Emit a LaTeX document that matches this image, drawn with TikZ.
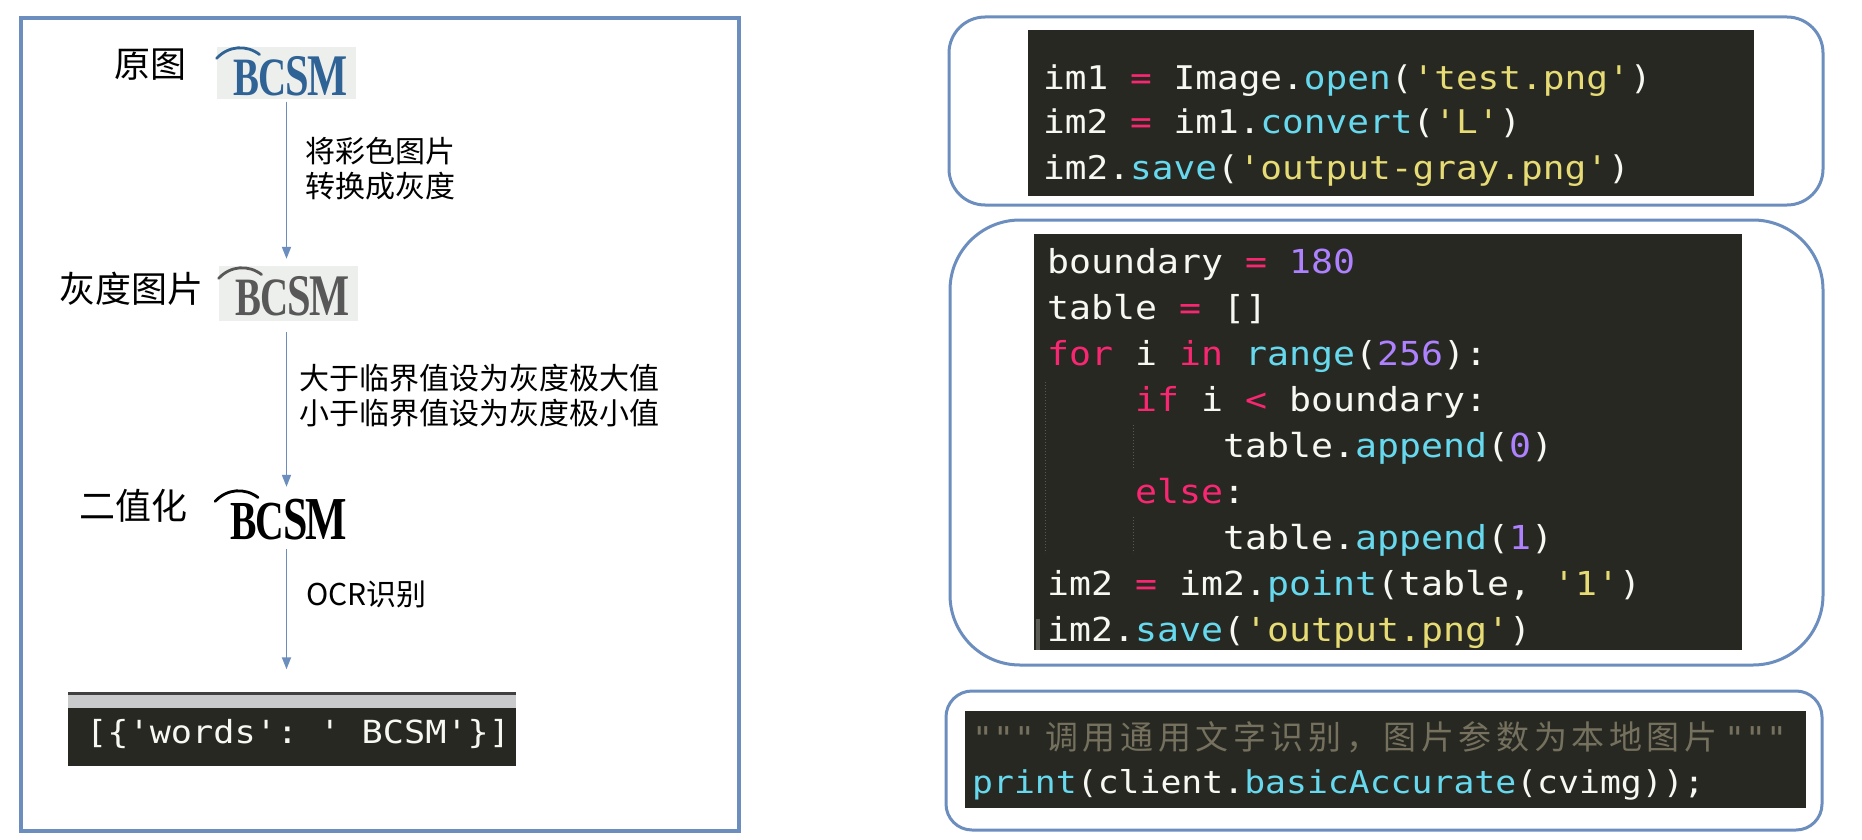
\documentclass[tikz,border=0pt]{standalone}
\usepackage{fontspec}
\setmonofont[FakeStretch=1.107]{DejaVu Sans Mono}
\newfontfamily\cjk{Noto Sans CJK SC}
\newfontfamily\capfont{Liberation Serif}
\usetikzlibrary{arrows.meta}
\definecolor{framec}{HTML}{6C8EBF}
\definecolor{mbg}{HTML}{272822}
\definecolor{mfg}{HTML}{F8F8F2}
\definecolor{mpink}{HTML}{F92672}
\definecolor{mcyan}{HTML}{66D9EF}
\definecolor{myel}{HTML}{E6DB74}
\definecolor{mpur}{HTML}{AE81FF}
\definecolor{mcmt}{HTML}{75715E}
\definecolor{capblue}{HTML}{2F6396}
\definecolor{capgray}{HTML}{585858}
\definecolor{capbg}{HTML}{EDEFEC}
\definecolor{stripgray}{HTML}{C8CACC}
\definecolor{guidec}{HTML}{5A5A55}
\newcommand\cop[1]{\textcolor{mpink}{#1}}
\newcommand\cfn[1]{\textcolor{mcyan}{#1}}
\newcommand\cstr[1]{\textcolor{myel}{#1}}
\newcommand\cnum[1]{\textcolor{mpur}{#1}}
\newcommand\cg{\kern4.6pt}
% #1 image node, #2 colour, #3 size of B and C, #4 size of S and M
\newcommand\drawcaptcha[4]{%
  \node[capword, text=#2] (#1-w) at ([xshift=4pt,yshift=-3pt]#1.center)
    {\fontsize{#3}{#3}\selectfont B\kern-2pt C\kern-1pt{\fontsize{#4}{#4}\selectfont S\kern-3pt M}};
  \draw[#2, line width=2.8pt, line cap=round] ([shift={(-70,-15)}]#1.center) .. controls ([shift={(-58,-28)}]#1.center) and ([shift={(-40,-29)}]#1.center) .. ([shift={(-27,-19)}]#1.center);
}
\begin{document}
\begin{tikzpicture}[x=1pt,y=-1pt,
  framebox/.style={draw=framec, line width=3.5pt, inner sep=0pt},
  codebg/.style={fill=mbg, inner sep=0pt},
  capbox/.style={inner sep=0pt},
  capword/.style={inner sep=0pt, font=\capfont\bfseries, xscale=0.72},
  bigcn/.style={inner sep=0pt, font=\cjk\fontsize{36}{44}\selectfont},
  smallcn/.style={inner sep=0pt, align=left, anchor=west, font=\cjk\fontsize{30}{35.5}\selectfont},
  flow/.style={draw=framec, line width=1.8pt, -{Triangle[length=12pt,width=9pt]}},
  codeline/.style={inner sep=0pt, anchor=base west, text=mfg},
  guide/.style={draw=guidec, line width=1pt, dotted}]
\useasboundingbox (0,0) rectangle (1862,840);
\fill[white] (0,0) rectangle (1862,840);

% ---------- left panel ----------
\node[framebox, minimum width=718pt, minimum height=813pt] (lbox) at (380,424.5) {};

\node[capbox, fill=capbg, minimum width=139pt, minimum height=52pt] (img1) at (286.5,73.5) {};
\node[capbox, fill=capbg, minimum width=139pt, minimum height=55pt] (img2) at (288.5,293.5) {};
\node[capbox, minimum width=136pt, minimum height=47pt] (img3) at (285,516.5) {};
\drawcaptcha{img1}{capblue}{54}{59}
\drawcaptcha{img2}{capgray}{54}{59}
\drawcaptcha{img3}{black}{55}{61}

\node[bigcn] (lab1) at (150,65) {原图};
\node[bigcn] (lab2) at (131,289) {灰度图片};
\node[bigcn] (lab3) at (133,506) {二值化};

\node[inner sep=0pt, fill=mbg, minimum width=448pt, minimum height=73pt] (res) at (292,729) {};
\fill[black!75] (res.north west) rectangle ([yshift=-3pt]res.north east);
\fill[stripgray] ([yshift=-3pt]res.north west) rectangle ([yshift=-16pt]res.north east);
\node[codeline, font=\ttfamily\fontsize{31.8}{38}\selectfont] (restext) at (86,743) {[\{'words': ' BCSM'\}]};

\draw[flow, shorten <=2pt, shorten >=7pt] (img1.south) -- (img1.south |- img2.north);
\draw[flow, shorten <=11pt, shorten >=6pt] (img1.south |- img2.south) -- (img1.south |- img3.north);
\draw[flow, shorten <=9pt, shorten >=23pt] (img1.south |- img3.south) -- (img1.south |- res.north);

\node[smallcn] (t1) at (305,168.5) {将彩色图片\\转换成灰度};
\node[smallcn] (t2) at (299,395.5) {大于临界值设为灰度极大值\\小于临界值设为灰度极小值};
\node[smallcn] (t3) at (306,594) {OCR识别};

% ---------- right panel: box 1 ----------
\node[framebox, line width=3pt, rounded corners=36pt, minimum width=874pt, minimum height=188pt] (box1) at (1386,111) {};
\node[codebg, minimum width=726pt, minimum height=166pt] (c1bg) at (1391,113) {};
\begin{scope}[every node/.style={codeline, font=\ttfamily\fontsize{32.6}{40}\selectfont}]
\node (c1l1) at (1043,90)  {im1 \cop{=} Image.\cfn{open}(\cstr{'test.png'})};
\node (c1l2) at (1043,134) {im2 \cop{=} im1.\cfn{convert}(\cstr{'L'})};
\node (c1l3) at (1043,179) {im2.\cfn{save}(\cstr{'output-gray.png'})};
\end{scope}

% ---------- right panel: box 2 ----------
\node[framebox, line width=3pt, rounded corners=70pt, minimum width=873pt, minimum height=445pt] (box2) at (1386.5,442.5) {};
\node[codebg, minimum width=708pt, minimum height=416pt] (c2bg) at (1388,442) {};
\draw[guide] (1045,382) -- (1045,553);
\draw[guide] (1133,425) -- (1133,468);
\draw[guide] (1133,517) -- (1133,553);
\fill[guidec] (1036,619) rectangle (1040,650);
\begin{scope}[every node/.style={codeline, font=\ttfamily\fontsize{33}{40}\selectfont}]
\node (c2l1) at (1047,273) {boundary \cop{=} \cnum{180}};
\node (c2l2) at (1047,319) {table \cop{=} []};
\node (c2l3) at (1047,365) {\cop{for} i \cop{in} \cfn{range}(\cnum{256}):};
\node (c2l4) at (1135,411) {\cop{if} i \cop{<} boundary:};
\node (c2l5) at (1223,457) {table.\cfn{append}(\cnum{0})};
\node (c2l6) at (1135,503) {\cop{else}:};
\node (c2l7) at (1223,549) {table.\cfn{append}(\cnum{1})};
\node (c2l8) at (1047,595) {im2 \cop{=} im2.\cfn{point}(table, \cstr{'1'})};
\node (c2l9) at (1047,641) {im2.\cfn{save}(\cstr{'output.png'})};
\end{scope}

% ---------- right panel: box 3 ----------
\node[framebox, line width=3pt, rounded corners=26pt, minimum width=876pt, minimum height=139pt] (box3) at (1384,760.5) {};
\node[codebg, minimum width=841pt, minimum height=97pt] (c3bg) at (1385.5,759.5) {};
\begin{scope}[every node/.style={codeline, font=\ttfamily\fontsize{31.4}{38}\selectfont}]
\node[text=mcmt] (c3q1) at (972,749) {"""};
\node[text=mcmt, font=\cjk\fontsize{33}{38}\selectfont] (c3cmt) at (1045,749) {调\cg 用\cg 通\cg 用\cg 文\cg 字\cg 识\cg 别\cg ，\cg 图\cg 片\cg 参\cg 数\cg 为\cg 本\cg 地\cg 图\cg 片};
\node[text=mcmt] (c3q2) at (1724,749) {"""};
\node (c3l2) at (972,793) {\cfn{print}(client.\cfn{basicAccurate}(cvimg));};
\end{scope}
\end{tikzpicture}
\end{document}
